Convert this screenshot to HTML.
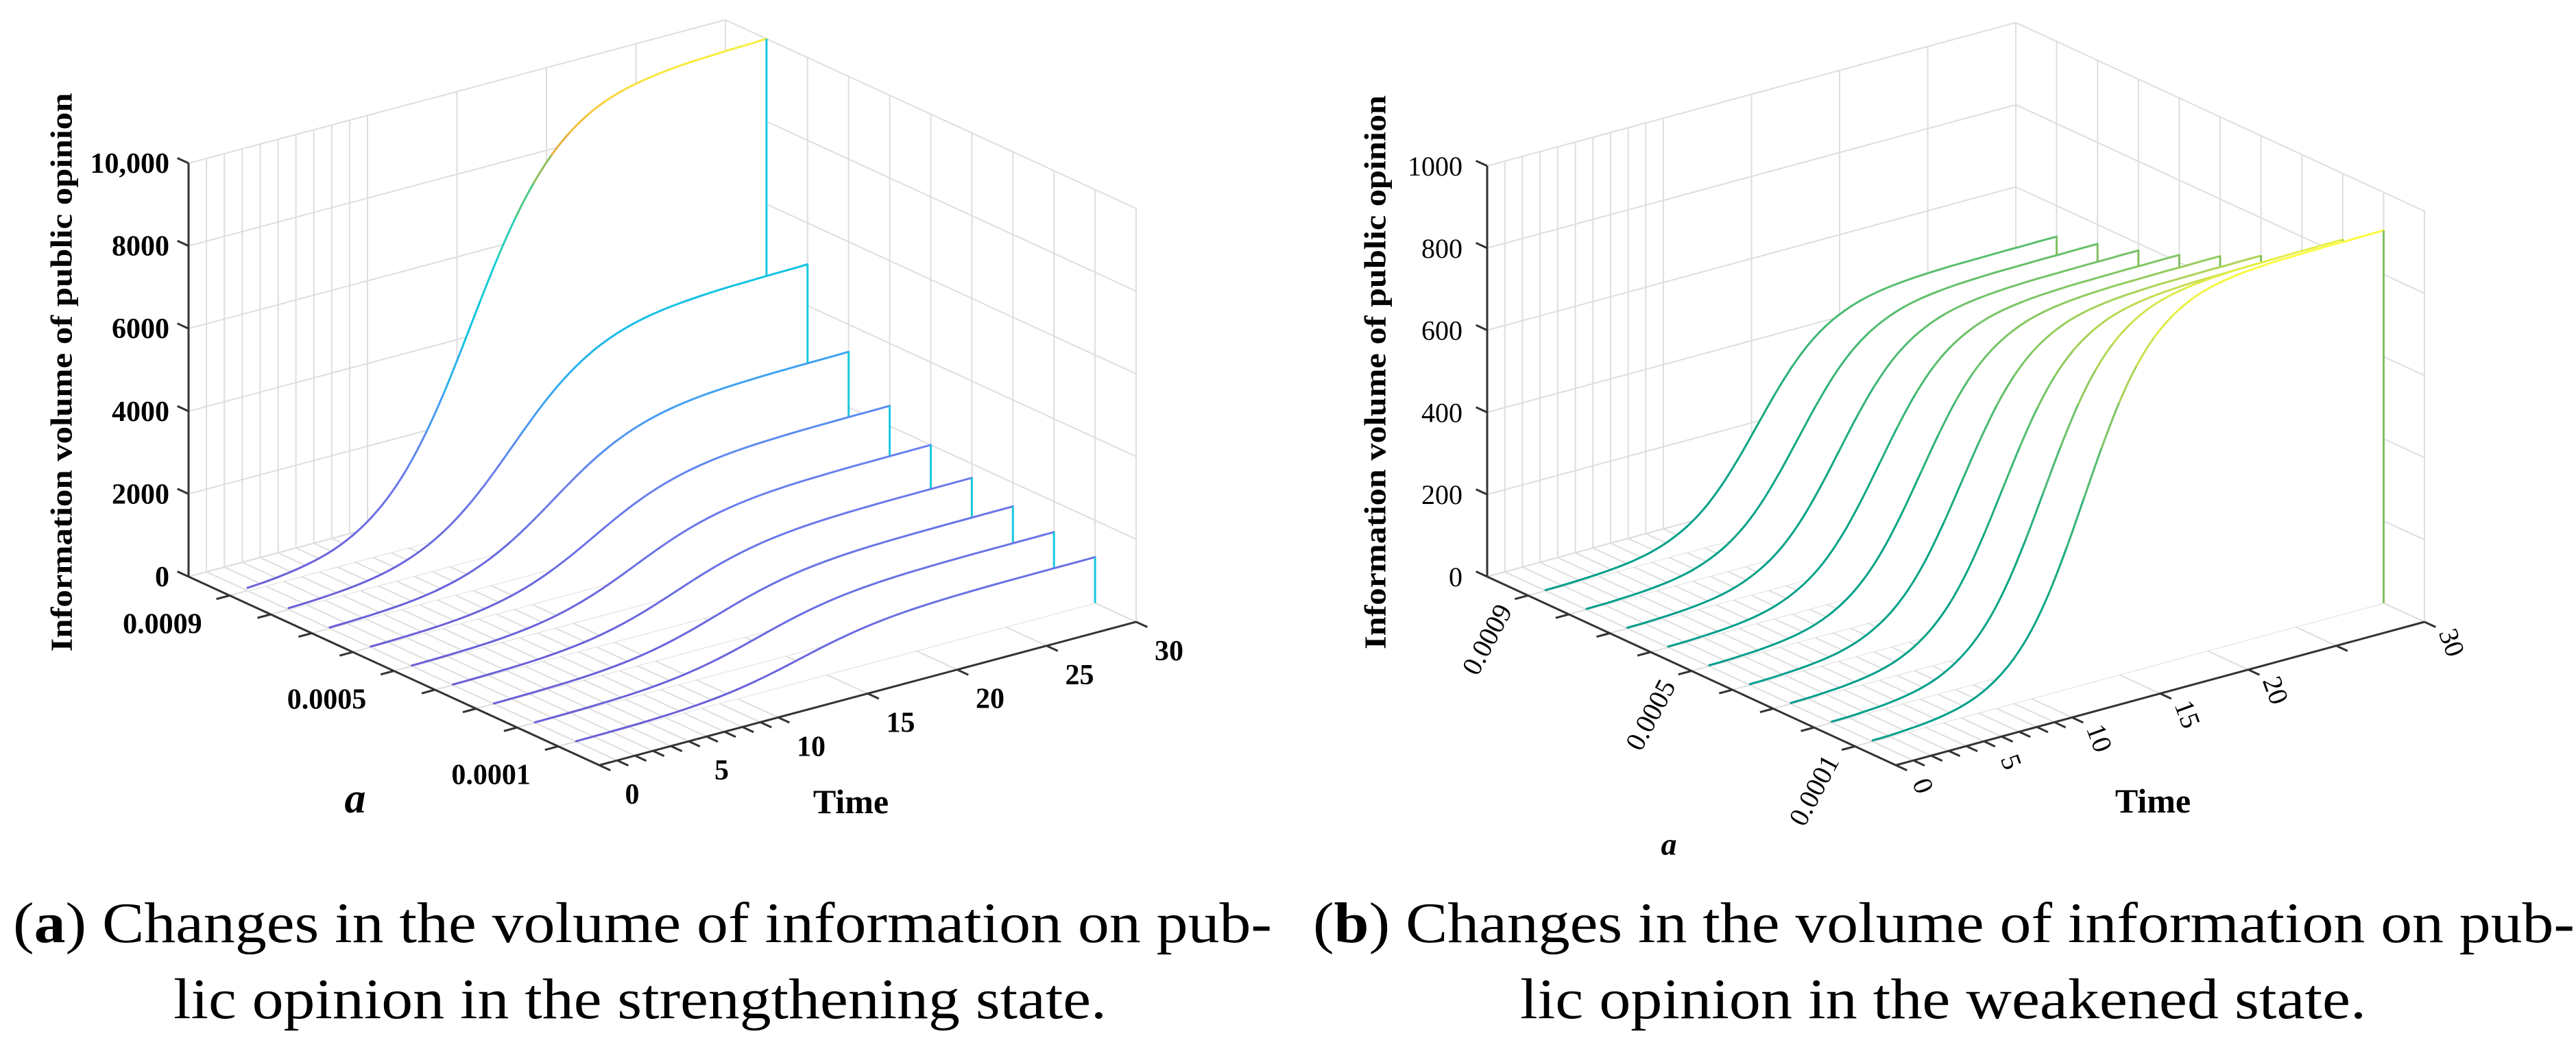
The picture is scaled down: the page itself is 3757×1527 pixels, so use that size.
<!DOCTYPE html>
<html><head><meta charset="utf-8"><style>
html,body{margin:0;padding:0;background:#fff;}
svg{display:block;}
</style></head><body>
<svg id="root" width="3757" height="1527" viewBox="0 0 3757 1527" xmlns="http://www.w3.org/2000/svg">
<rect width="3757" height="1527" fill="#fff"/>
<g id="chartA"></g>
<g id="chartB"></g>
<g font-family="'Liberation Serif', serif" font-size="84" fill="#000">
<text x="19" y="1374" textLength="1836" lengthAdjust="spacingAndGlyphs">(<tspan font-weight="bold">a</tspan>) Changes in the volume of information on pub-</text>
<text x="253" y="1485" textLength="1361" lengthAdjust="spacingAndGlyphs">lic opinion in the strengthening state.</text>
</g>
<g font-family="'Liberation Serif', serif" font-size="84" fill="#000">
<text x="1915" y="1374" textLength="1840" lengthAdjust="spacingAndGlyphs">(<tspan font-weight="bold">b</tspan>) Changes in the volume of information on pub-</text>
<text x="2217" y="1485" textLength="1234" lengthAdjust="spacingAndGlyphs">lic opinion in the weakened state.</text>
</g>
</svg>
<script>
// ---- data ----
const timeSteps = [1,2,3,4,5,6,7,8,9,10,11,12,13,14,15,16,17,18,19,20,21,22,23,24,25,26,27,28,29,30];
const aValues = [0.0001,0.0002,0.0003,0.0004,0.0005,0.0006,0.0007,0.0008,0.0009];
// chart (a): final volume per a, and growth shape (fraction of final) per time step
const finalA = [1110,1260,1425,1660,2000,2490,3340,5000,10000];
const shapeA = [0.007,0.010,0.015,0.022,0.032,0.047,0.069,0.100,0.142,0.198,0.269,0.354,0.450,0.550,0.646,0.731,0.802,0.858,0.900,0.931,0.953,0.968,0.978,0.985,0.990,0.993,0.995,0.997,0.998,1.0];
// chart (b)
const finalB = [907,839,764,708,661,618,583,553,525];
const shapeB = [0.003,0.004,0.007,0.011,0.018,0.029,0.047,0.076,0.119,0.182,0.269,0.378,0.500,0.622,0.731,0.818,0.881,0.924,0.953,0.971,0.982,0.989,0.993,0.996,0.997,0.998,0.999,0.999,1.0,1.0];
const zTicksA = [0,2000,4000,6000,8000,10000];
const zTickLabelsA = ["0","2000","4000","6000","8000","10,000"];
const zTicksB = [0,200,400,600,800,1000];
const zTickLabelsB = ["0","200","400","600","800","1000"];
const timeTicks = [0,1,2,3,4,5,6,7,8,9,10,15,20,25,30];
const timeLabelsA = [0,5,10,15,20,25,30];
const timeLabelsB = [0,5,10,15,20,30];
const aTicks = [0.0001,0.0002,0.0003,0.0004,0.0005,0.0006,0.0007,0.0008,0.0009];
const aLabels = ["0.0001","0.0005","0.0009"];

const NS = "http://www.w3.org/2000/svg";
function el(tag, attrs, parent){
  const e = document.createElementNS(NS, tag);
  for (const k in attrs) e.setAttribute(k, attrs[k]);
  parent.appendChild(e);
  return e;
}
function hex(c){return [parseInt(c.slice(1,3),16),parseInt(c.slice(3,5),16),parseInt(c.slice(5,7),16)];}
function cmap(stops, f){
  f = Math.max(0, Math.min(1, f));
  for (let i=1;i<stops.length;i++){
    if (f <= stops[i][0]){
      const s0=stops[i-1], s1=stops[i];
      const r=(f-s0[0])/(s1[0]-s0[0]);
      const c0=hex(s0[1]), c1=hex(s1[1]);
      return "rgb("+c0.map((v,j)=>Math.round(v+(c1[j]-v)*r)).join(",")+")";
    }
  }
  return stops[stops.length-1][1];
}

function drawChart(g, cfg){
  const amax = 0.001, tmax = 30;
  function P(t, a, z){
    const u = (amax - a)/amax;
    return [cfg.O[0] + u*cfg.A[0] + t/tmax*cfg.T[0],
            cfg.O[1] + u*cfg.A[1] + t/tmax*cfg.T[1] - z/cfg.zmax*cfg.Zh];
  }
  const grid = el('g', {stroke:'#dedede','stroke-width':2,fill:'none'}, g);
  
  
  const zTop = cfg.zTicks[cfg.zTicks.length-1];
  function line(p,q,par){ return el('line',{x1:p[0],y1:p[1],x2:q[0],y2:q[1]},par); }
  // back wall (a = amax)
  timeTicks.forEach(t=>{ line(P(t,amax,0),P(t,amax,zTop),grid); });
  cfg.zTicks.forEach(z=>{ line(P(0,amax,z),P(tmax,amax,z),grid); });
  // right wall (t = tmax)
  [0].concat(aTicks).concat([amax]).forEach(a=>{ line(P(tmax,a,0),P(tmax,a,zTop),grid); });
  cfg.zTicks.forEach(z=>{ line(P(tmax,0,z),P(tmax,amax,z),grid); });
  // floor
  aTicks.concat([amax]).forEach(a=>{ line(P(0,a,0),P(tmax,a,0),grid); });
  timeTicks.forEach(t=>{ line(P(t,0,0),P(t,amax,0),grid); });

  // axes
  const ax = el('g',{stroke:'#333','stroke-width':3,fill:'none'},g);
  
  
  const zAxis = line(P(0,amax,0),P(0,amax,zTop),ax);
  
  
  const aAxis = line(P(0,amax,0),P(0,0,0),ax);
  
  
  const tAxis = line(P(0,0,0),P(tmax,0,0),ax);
  
  
  const aLen = Math.hypot(cfg.A[0],cfg.A[1]), tLen = Math.hypot(cfg.T[0],cfg.T[1]);
  cfg.zTicks.forEach(z=>{ const p=P(0,amax,z); line(p,[p[0]-18*cfg.A[0]/aLen,p[1]-18*cfg.A[1]/aLen],ax); });
  aTicks.forEach(a=>{ const p=P(0,a,0); line(p,[p[0]-20*cfg.T[0]/tLen,p[1]-20*cfg.T[1]/tLen],ax); });
  timeTicks.forEach(t=>{ const p=P(t,0,0); line(p,[p[0]+18*cfg.A[0]/aLen,p[1]+18*cfg.A[1]/aLen],ax); });

  // series (back to front)
  const ser = el('g',{},g);
  
  
  for (let i=aValues.length-1;i>=0;i--){
    const a = aValues[i], fin = cfg.finals[i];
    const sg = el('g',{},ser);
    
    
    const zs = cfg.shape.map(s=>s*fin);
    const pts = timeSteps.map((t,k)=>P(t,a,zs[k]));
    let d = "M"+pts[0].join(",");
    for (let k=1;k<pts.length;k++){
      const p0=pts[Math.max(0,k-2)],p1=pts[k-1],p2=pts[k],p3=pts[Math.min(pts.length-1,k+1)];
      const c1=[p1[0]+(p2[0]-p0[0])/6,p1[1]+(p2[1]-p0[1])/6];
      const c2=[p2[0]-(p3[0]-p1[0])/6,p2[1]-(p3[1]-p1[1])/6];
      d += " C"+c1.join(",")+" "+c2.join(",")+" "+p2.join(",");
    }
    const endB = P(timeSteps[timeSteps.length-1],a,0), startB = P(timeSteps[0],a,0);
    const fill = el('path',{d:d+" L"+endB.join(",")+" L"+startB.join(",")+" Z",fill:'#fff',stroke:'none'},sg);
    
    
    for (let k=1;k<pts.length;k++){
      const p0=pts[Math.max(0,k-2)],p1=pts[k-1],p2=pts[k],p3=pts[Math.min(pts.length-1,k+1)];
      const c1=[p1[0]+(p2[0]-p0[0])/6,p1[1]+(p2[1]-p0[1])/6];
      const c2=[p2[0]-(p3[0]-p1[0])/6,p2[1]-(p3[1]-p1[1])/6];
      const col = cmap(cfg.stops,(zs[k-1]+zs[k])/2/cfg.cnorm);
      const seg = el('path',{d:"M"+p1.join(",")+" C"+c1.join(",")+" "+c2.join(",")+" "+p2.join(","),stroke:col,'stroke-width':3,fill:'none','stroke-linecap':'round'},sg);
      
      
    }
    const last = pts[pts.length-1];
    const drop = el('line',{x1:last[0],y1:last[1],x2:endB[0],y2:endB[1],stroke:cfg.dropColor,'stroke-width':3},sg);
    
    
  }

  // labels
  const lab = el('g',{'font-family':"'Liberation Serif', serif",fill:'#000'},g);
  
  
  cfg.zTicks.forEach((z,k)=>{
    const p=P(0,amax,z);
    const t=el('text',{x:cfg.zLabelX,y:p[1]+14,'text-anchor':'end','font-size':cfg.tickFont,'font-weight':cfg.tickWeight},lab);
    
    
    t.textContent = cfg.zLabels[k];
  });
  aLabels.forEach(s=>{
    const p=P(0,parseFloat(s),0);
    const x=p[0]+cfg.aOff[0], y=p[1]+cfg.aOff[1];
    const t=el('text',{x:x,y:y,'text-anchor':'middle','dominant-baseline':'central','font-size':cfg.tickFont,'font-weight':cfg.tickWeight,transform:'rotate('+cfg.aRot+' '+x+' '+y+')'},lab);
    
    
    t.textContent = s;
  });
  cfg.timeLabels.forEach(v=>{
    const p=P(v,0,0);
    const x=p[0]+cfg.tOff[0], y=p[1]+cfg.tOff[1];
    const t=el('text',{x:x,y:y,'text-anchor':'middle','dominant-baseline':'central','font-size':cfg.tickFont,'font-weight':cfg.tickWeight,transform:'rotate('+cfg.tRot+' '+x+' '+y+')'},lab);
    
    
    t.textContent = String(v);
  });
  const tt=el('text',{x:cfg.timeTitle[0],y:cfg.timeTitle[1],'text-anchor':'middle','dominant-baseline':'central','font-size':50,'font-weight':'bold'},lab);
  
  
  tt.textContent='Time';
  const at=el('text',{x:cfg.aTitle[0],y:cfg.aTitle[1],'text-anchor':'middle','dominant-baseline':'central','font-size':cfg.aTitleFont,'font-weight':'bold','font-style':'italic'},lab);
  
  
  at.textContent='a';
  const yt=el('text',{x:cfg.yTitle[0],y:cfg.yTitle[1],'text-anchor':'middle','dominant-baseline':'central','font-size':44,'font-weight':'bold',textLength:cfg.yTitleLen,lengthAdjust:'spacingAndGlyphs',transform:'rotate(-90 '+cfg.yTitle[0]+' '+cfg.yTitle[1]+')'},lab);
  
  
  yt.textContent='Information volume of public opinion';
}

drawChart(document.getElementById('chartA'),{
  O:[275,841], A:[599,275], T:[783,-209], Zh:603, zmax:10000,
  zTicks:zTicksA, zLabels:zTickLabelsA, finals:finalA, shape:shapeA,
  cnorm:10000,
  stops:[[0,'#6b5fd8'],[0.2,'#6a80ee'],[0.35,'#3aa8f2'],[0.5,'#12c4e4'],[0.65,'#1ccfd0'],[0.8,'#5cc870'],[0.88,'#e8b040'],[0.95,'#f8d040'],[1,'#f8f040']],
  dropColor:'#18c8e0', tickFont:42, tickWeight:'bold', zLabelX:247,
  aOff:[-98,42], aRot:0, tOff:[48,43], tRot:0, timeLabels:timeLabelsA,
  timeTitle:[1241,1169], aTitle:[518,1165], aTitleFont:62,
  yTitle:[90,543], yTitleLen:815
});
drawChart(document.getElementById('chartB'),{
  O:[2169,841], A:[596,275], T:[771,-209], Zh:599, zmax:1000,
  zTicks:zTicksB, zLabels:zTickLabelsB, finals:finalB, shape:shapeB,
  cnorm:907,
  stops:[[0,'#009e8c'],[0.3,'#10a880'],[0.55,'#50bc70'],[0.7,'#88c860'],[0.85,'#cce050'],[1,'#fcfc40']],
  dropColor:'#80c060', tickFont:40, tickWeight:'normal', zLabelX:2133,
  aOff:[-60,64], aRot:-62, tOff:[40,30], tRot:70, timeLabels:timeLabelsB,
  timeTitle:[3140,1168], aTitle:[2434,1231], aTitleFont:46,
  yTitle:[2006,543], yTitleLen:808
});
</script>
</body></html>
